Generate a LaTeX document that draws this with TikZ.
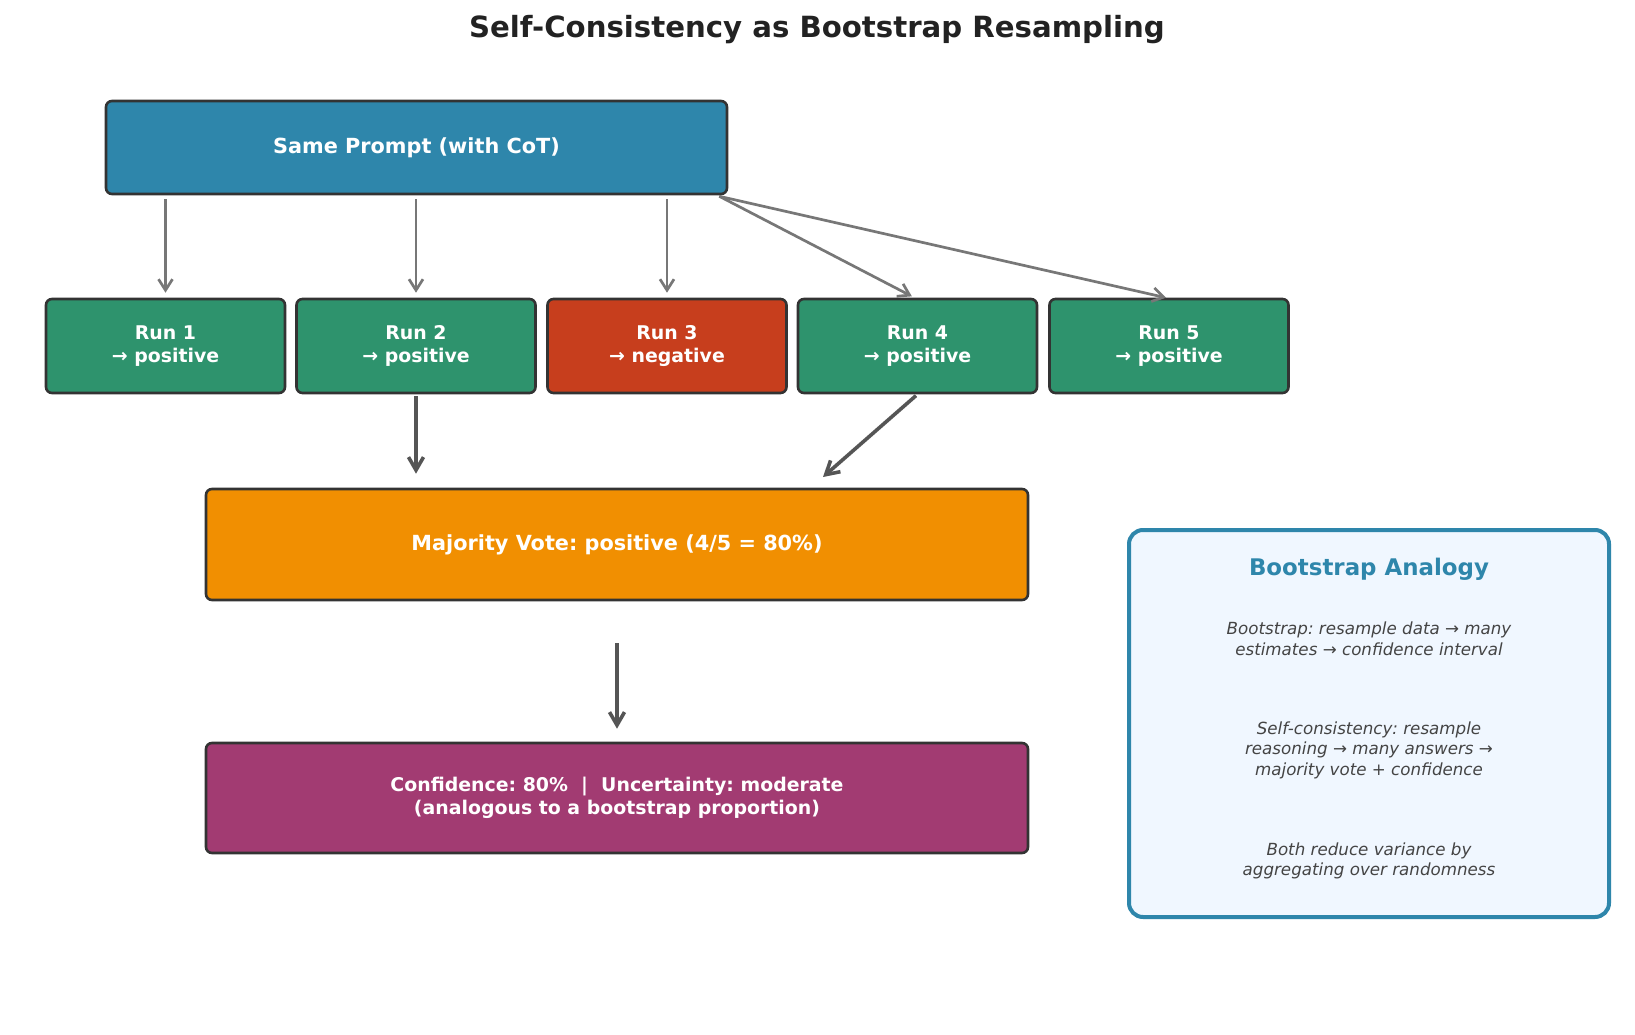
\documentclass[tikz,border=0pt]{standalone}
\usepackage{fontspec}
\setmainfont{DejaVu Sans}
\usetikzlibrary{arrows.meta,calc}
\frenchspacing
\definecolor{cblue}{HTML}{2E86AB}
\definecolor{cgreen}{HTML}{2E936D}
\definecolor{cred}{HTML}{C73E1D}
\definecolor{corange}{HTML}{F18F01}
\definecolor{cpurple}{HTML}{A23B72}
\definecolor{cedge}{HTML}{333333}
\definecolor{cpale}{HTML}{F0F7FF}
\definecolor{ctitle}{HTML}{222222}
\definecolor{cbody}{HTML}{444444}
\definecolor{carrowlight}{HTML}{777777}
\definecolor{carrowdark}{HTML}{555555}
\tikzset{
  box/.style={draw=cedge, line width=2.6pt, rounded corners=6pt, inner sep=0pt,
    text=white, font=\bfseries, align=center},
  runbox/.style={box, fill=cgreen, minimum width=239pt, minimum height=94pt,
    font=\fontsize{18.9}{22.8}\selectfont\bfseries},
  lightarrow/.style={draw=carrowlight, line width=2.7pt,
    -{Straight Barb[length=11pt,width=14pt,line width=2.7pt]}},
  darkarrow/.style={draw=carrowdark, line width=3.6pt,
    -{Straight Barb[length=13pt,width=15pt,line width=3.6pt]}},
  bodytext/.style={text=cbody, font=\fontsize{16.7}{20.5}\selectfont\itshape, align=center}
}
\begin{document}
\begin{tikzpicture}[x=1pt,y=-1pt]
\useasboundingbox[fill=white] (0,0) rectangle (1635,1035);

\node[font=\fontsize{29.2}{34}\selectfont\bfseries, text=ctitle] (title) at (817,30) {Self-Consistency as Bootstrap Resampling};

\node[box, fill=cblue, minimum width=621pt, minimum height=93pt,
  font=\fontsize{20.8}{25}\selectfont\bfseries] (prompt) at (416.5,147.5) {Same Prompt (with CoT)};

\node[runbox] (run1) at (165.5,346) {Run 1\\→ positive};
\node[runbox] (run2) at (416,346) {Run 2\\→ positive};
\node[runbox, fill=cred] (run3) at (667,346) {Run 3\\→ negative};
\node[runbox] (run4) at (917.5,346) {Run 4\\→ positive};
\node[runbox] (run5) at (1169,346) {Run 5\\→ positive};

\node[box, fill=corange, minimum width=822pt, minimum height=111pt,
  font=\fontsize{20.8}{25}\selectfont\bfseries] (maj) at (617,544.5) {Majority Vote: positive (4/5 = 80\%)};

\node[box, fill=cpurple, minimum width=822pt, minimum height=110pt,
  font=\fontsize{18.9}{23}\selectfont\bfseries] (conf) at (617,798)
  {Confidence: 80\%~~|~~Uncertainty: moderate\\(analogous to a bootstrap proportion)};

\node[draw=cblue, fill=cpale, line width=4pt, rounded corners=14pt,
  minimum width=480pt, minimum height=387pt, inner sep=0pt] (analogy) at (1369,723.5) {};
\node[text=cblue, font=\fontsize{22.9}{27}\selectfont\bfseries] (antitle) at (1369,569) {Bootstrap Analogy};
\node[bodytext] (an1) at (1369,639) {Bootstrap: resample data → many\\estimates → confidence interval};
\node[bodytext] (an2) at (1369,750) {Self-consistency: resample\\reasoning → many answers →\\majority vote + confidence};
\node[bodytext] (an3) at (1369,861) {Both reduce variance by\\aggregating over randomness};

% arrows prompt -> runs
\draw[lightarrow, shorten <=4pt, shorten >=5pt] (prompt.south -| run1.north) -- (run1.north);
\draw[lightarrow, shorten <=4pt, shorten >=5pt] (prompt.south -| run2.north) -- (run2.north);
\draw[lightarrow, shorten <=4pt, shorten >=5pt] (prompt.south -| run3.north) -- (run3.north);
\coordinate (pse) at ($(prompt.south east)+(-9,1)$);
\draw[lightarrow, shorten >=3pt] (pse) -- ($(run4.north)+(-3,0)$);
\draw[lightarrow, shorten >=0pt] (pse) -- ($(run5.north)+(-3,0)$);

% arrows runs -> majority
\draw[darkarrow, shorten <=2pt, shorten >=14pt] (run2.south) -- (run2.south |- maj.north);
\coordinate (majin) at (823,477);
\draw[darkarrow, shorten <=2pt] (run4.south) -- (majin);

% majority -> confidence
\coordinate (mc1) at ($(maj.south)+(0,42)$);
\draw[darkarrow, shorten >=13pt] (mc1) -- (conf.north);
\end{tikzpicture}
\end{document}
